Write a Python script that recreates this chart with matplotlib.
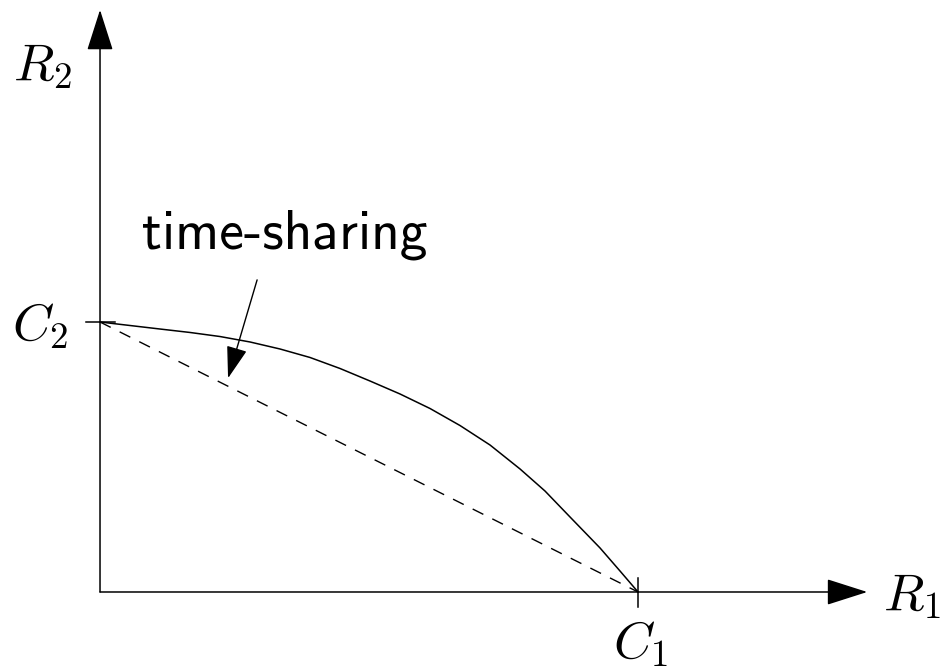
import matplotlib
matplotlib.use('Agg')
import matplotlib.pyplot as plt

plt.rcParams['mathtext.fontset'] = 'cm'

# capacity region boundary (R1, R2), C1 = 1
c1 = 1.0
c2 = 0.5
r1_curve = [0.0, 0.0558, 0.1115, 0.1673, 0.2230, 0.2788, 0.3346, 0.3903, 0.4461, 0.5019,
            0.5576, 0.6134, 0.6691, 0.7249, 0.7807, 0.8271, 0.8736, 0.9294, 0.9665, 1.0]
r2_curve = [0.5, 0.4935, 0.4870, 0.4806, 0.4731, 0.4630, 0.4500, 0.4343, 0.4139, 0.3907,
            0.3667, 0.3398, 0.3083, 0.2722, 0.2278, 0.1870, 0.1389, 0.0815, 0.0389, 0.0]

# time-sharing line between the two corner points
r1_ts = [0.0, c1]
r2_ts = [c2, 0.0]

fig = plt.figure(figsize=(9.42, 6.67), dpi=100)
ax = fig.add_axes([0, 0, 1, 1])
ax.set_xlim(-0.1859, 1.565)
ax.set_ylim(-0.1389, 1.0963)
ax.axis('off')

axis_arrow = dict(arrowstyle='-|>,head_length=2.6,head_width=0.83', mutation_scale=10,
                  color='black', lw=1.1, shrinkA=0, shrinkB=0)
ax.annotate('', xy=(1.426, 0), xytext=(0, 0), arrowprops=axis_arrow)
ax.annotate('', xy=(0, 1.078), xytext=(0, 0), arrowprops=axis_arrow)

# tick marks at C1 and C2
ax.plot([c1, c1], [-0.028, 0.026], color='black', lw=1.1)
ax.plot([-0.026, 0.028], [c2, c2], color='black', lw=1.1)

ax.plot(r1_curve, r2_curve, color='black', lw=1.1, solid_joinstyle='round')
ax.plot(r1_ts, r2_ts, color='black', lw=1.0, dashes=(8.6, 7.2))

ax.annotate('', xy=(0.238, 0.396), xytext=(0.292, 0.578),
            arrowprops=dict(arrowstyle='-|>,head_length=2.0,head_width=0.65', mutation_scale=10,
                            color='black', lw=1.0, shrinkA=0, shrinkB=0))
ax.text(0.078, 0.637, 'time-sharing', family='cmss10', fontsize=40, ha='left', va='baseline')

ax.text(-0.108, 0.976, '$R_2$', fontsize=38, ha='center', va='center')
ax.text(1.509, -0.006, '$R_1$', fontsize=38, ha='center', va='center')
ax.text(-0.112, 0.494, '$C_2$', fontsize=38, ha='center', va='center')
ax.text(1.004, -0.094, '$C_1$', fontsize=38, ha='center', va='center')

fig.savefig('out.png', dpi=100)
